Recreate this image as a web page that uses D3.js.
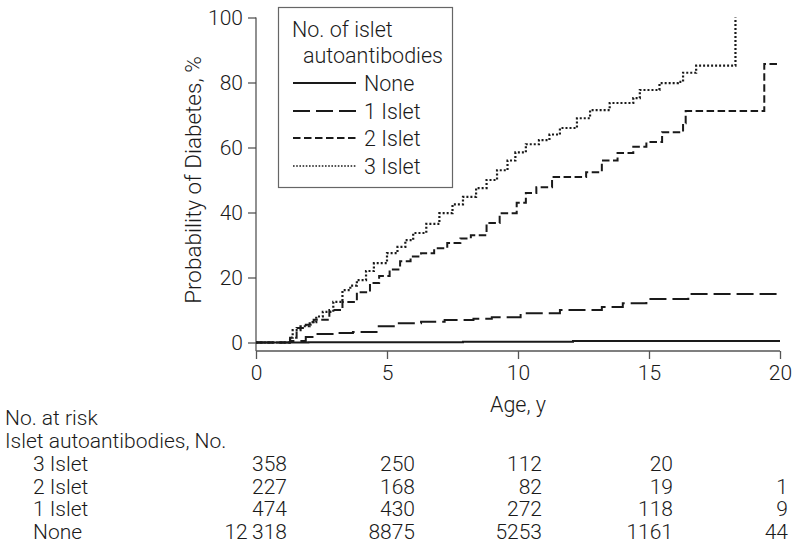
<!DOCTYPE html>
<html>
<head>
<meta charset="utf-8">
<script src="https://cdn.jsdelivr.net/npm/d3@7"></script>
<style>
  body { margin: 0; background: #fff; }
  svg text { font-family: Roboto, "Liberation Sans", sans-serif; font-weight: 300; fill: #1a1a1a; }
</style>
</head>
<body>
<div id="container"></div>
<script>
// step points: [age, probability %] - value holds from that age onward
const noneIslet = [[0,0],[2,0.1],[7.9,0.25],[12.1,0.5],[20,0.5]];
const oneIslet = [[0,0],[1.3,0.5],[1.9,1.7],[2.3,2.6],[3.1,2.9],[3.7,3.2],[4.6,5.0],[5.4,5.9],[6.3,6.4],
  [7.2,6.9],[8.3,7.3],[9.0,7.8],[10.1,9.0],[11.6,10.0],[13.2,10.9],[14.0,12.1],[14.9,13.4],[16.5,14.9],[20,14.9]];
const twoIslet = [[0,0],[1.3,1.5],[1.55,4.5],[1.9,5.5],[2.2,7],[2.8,10],[3.3,12.5],[3.85,15.5],[4.35,18.3],
  [4.7,20.5],[5.1,22.5],[5.5,25],[5.9,26.5],[6.3,27.5],[6.8,29],[7.3,30.6],[7.8,32],[8.2,33],[8.8,36.8],
  [9.3,39.8],[9.95,43],[10.3,46],[10.7,47.8],[11.3,50.9],[12.6,52.4],[13.2,56],[13.8,58.3],[14.4,60.2],
  [14.9,61.7],[15.5,64.7],[16.3,67.5],[16.4,71.2],[19.4,85.7],[20,85.7]];
const threeIslet = [[0,0],[1.3,1.5],[1.4,3.8],[1.7,5],[2.05,6.3],[2.3,8],[2.55,9.4],[2.95,12.5],[3.3,16.1],
  [3.6,17.5],[3.85,19.2],[4.2,22],[4.5,24.4],[5.0,27.5],[5.4,29.4],[5.7,31.5],[6.0,33.7],[6.5,36.5],
  [7.0,39.8],[7.5,42.5],[7.9,44.8],[8.4,47.5],[8.8,50],[9.2,53],[9.6,56],[9.9,58.5],[10.3,61],[10.8,62.3],
  [11.2,64],[11.6,66],[12.25,69],[12.75,71.5],[13.5,73.7],[14.4,75.2],[14.65,77.7],[15.4,79.8],[16.1,80.2],
  [16.3,83],[16.8,85.2],[18.3,100]];

const seriesNames = ["None", "1 Islet", "2 Islet", "3 Islet"];
const seriesData = [noneIslet, oneIslet, twoIslet, threeIslet];
const seriesDash = ["none", "17,6", "7.5,3.5", "2,2"];

const riskAges = [0, 5, 10, 15, 20];
const riskRows = ["3 Islet", "2 Islet", "1 Islet", "None"];
const risk3 = ["358", "250", "112", "20", ""];
const risk2 = ["227", "168", "82", "19", "1"];
const risk1 = ["474", "430", "272", "118", "9"];
const risk0 = ["12\u2009318", "8875", "5253", "1161", "44"];
const riskValues = [risk3, risk2, risk1, risk0];

const xTicks = [0, 5, 10, 15, 20];
const yTicks = [0, 20, 40, 60, 80, 100];

const width = 800, height = 547;
const svg = d3.select("#container").append("svg")
    .attr("width", width).attr("height", height);

const x = d3.scaleLinear().domain([0, 20]).range([256, 780]);
const y = d3.scaleLinear().domain([0, 100]).range([342.5, 17.5]);
const axisColor = "#555";

// y axis
const gy = svg.append("g").attr("transform", "translate(256,0)")
  .call(d3.axisLeft(y).tickValues(yTicks).tickSize(8).tickPadding(5));
gy.select(".domain").attr("d", `M0,${y(100)}V351`);
// x axis, sits a bit below y=0
const gx = svg.append("g").attr("transform", "translate(0,351)")
  .call(d3.axisBottom(x).tickValues(xTicks).tickSize(8).tickPadding(6));
gx.select(".domain").attr("d", `M${x(0)},0H${x(20)}`);
svg.selectAll(".tick line, .domain").attr("stroke", axisColor).attr("stroke-width", 1.3);
svg.selectAll(".tick text").style("font-size", "21px").attr("fill", "#1a1a1a");

svg.append("text")
  .attr("transform", `translate(201,${y(50)}) rotate(-90)`)
  .attr("text-anchor", "middle")
  .style("font-size", "22.5px")
  .text("Probability of Diabetes, %");
svg.append("text")
  .attr("x", x(10)).attr("y", 412)
  .attr("text-anchor", "middle")
  .style("font-size", "21.5px")
  .text("Age, y");

// curves
const line = d3.line().x(d => x(d[0])).y(d => y(d[1])).curve(d3.curveStepAfter);
svg.append("g").selectAll("path")
  .data(seriesData)
  .join("path")
    .attr("d", line)
    .attr("fill", "none")
    .attr("stroke", "#1a1a1a")
    .attr("stroke-width", (d, i) => i === 3 ? 2.2 : 2)
    .attr("stroke-dasharray", (d, i) => seriesDash[i]);

// legend
const lg = svg.append("g");
lg.append("rect").attr("x", 278.5).attr("y", 7.5).attr("width", 174).attr("height", 180)
  .attr("fill", "#fff").attr("stroke", "#666").attr("stroke-width", 1.2);
lg.append("text").attr("x", 292).attr("y", 37).style("font-size", "21.5px").text("No. of islet");
lg.append("text").attr("x", 303).attr("y", 63).style("font-size", "21.5px").text("autoantibodies");
const legendY = [83, 111, 138, 166];
seriesNames.forEach((name, i) => {
  lg.append("line").attr("x1", 293).attr("x2", 356).attr("y1", legendY[i]).attr("y2", legendY[i])
    .attr("stroke", "#1a1a1a").attr("stroke-width", i === 3 ? 1.6 : 2)
    .attr("stroke-dasharray", i === 3 ? "1.6,1.6" : seriesDash[i]);
  lg.append("text").attr("x", 364).attr("y", legendY[i] + 8).style("font-size", "21.5px").text(name);
});

// number at risk table
const tb = svg.append("g").style("font-size", "21px");
tb.append("text").attr("x", 5).attr("y", 425).text("No. at risk");
tb.append("text").attr("x", 5).attr("y", 448).text("Islet autoantibodies, No.");
const colShift = [31, 28, 24, 24, 8];
riskRows.forEach((r, i) => {
  const by = 471 + i * 22.7;
  tb.append("text").attr("x", 33).attr("y", by).text(r);
  riskValues[i].forEach((v, j) => {
    tb.append("text").attr("x", x(riskAges[j]) + colShift[j]).attr("y", by)
      .attr("text-anchor", "end").text(v);
  });
});
</script>
</body>
</html>
